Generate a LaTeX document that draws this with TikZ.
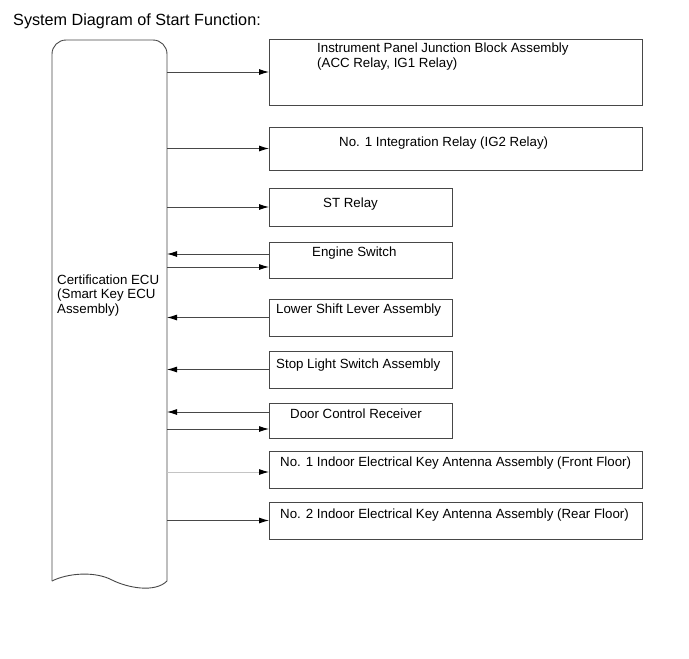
\documentclass[tikz,border=0pt]{standalone}
\usepackage{fontspec}
\setmainfont{Liberation Sans}
\usetikzlibrary{arrows.meta}
\definecolor{linegray}{HTML}{474747}
\definecolor{lightline}{HTML}{C4C4C4}
\tikzset{
  outline/.style={draw=linegray, line width=0.9pt},
  blockbox/.style={outline, rectangle, inner sep=0pt, outer sep=0pt, anchor=north west},
  boxtext/.style={inner sep=0pt, font=\fontsize{13.3}{15}\selectfont, text=black},
  conn/.style={draw=linegray, line width=0.9pt, -{Latex[length=10pt,width=6pt,color=black]}},
}
\begin{document}
\begin{tikzpicture}[x=1pt,y=-1pt]
\useasboundingbox (0,0) rectangle (689,659);
% title
\node[inner sep=0pt, anchor=base west, font=\fontsize{16.2}{18}\selectfont] (title) at (13,25) {System Diagram of Start Function:};
% ECU
\node[inner sep=0pt, outer sep=0pt, minimum width=115pt, minimum height=549pt, anchor=north west] (ecu) at (52,40) {};
\draw[outline, rounded corners=14pt] (52,581) -- (52,40) -- (167,40) -- (167,581);
\draw[outline] (52,581) .. controls (68,573) and (95,571) .. (112,580) .. controls (128,588) and (155,593) .. (167,581);
\node[boxtext, anchor=north west, align=left, font=\fontsize{13.3}{14.7}\selectfont] (ecutext) at (57,274.3) {Certification ECU\\(Smart Key ECU\\Assembly)};
% boxes
\node[blockbox, minimum width=373pt, minimum height=66pt] (b1) at (269,39) {};
\node[blockbox, minimum width=373pt, minimum height=43pt] (b2) at (269,127) {};
\node[blockbox, minimum width=183pt, minimum height=38pt] (b3) at (269,188) {};
\node[blockbox, minimum width=183pt, minimum height=36pt] (b4) at (269,242) {};
\node[blockbox, minimum width=183pt, minimum height=37pt] (b5) at (269,299) {};
\node[blockbox, minimum width=183pt, minimum height=37pt] (b6) at (269,351) {};
\node[blockbox, minimum width=183pt, minimum height=35pt] (b7) at (269,403) {};
\node[blockbox, minimum width=373pt, minimum height=37pt] (b8) at (269,451) {};
\node[blockbox, minimum width=373pt, minimum height=37pt] (b9) at (269,502) {};
% texts
\node[boxtext, anchor=north west, align=left] (t1) at (317,42.2) {Instrument Panel Junction Block Assembly\\(ACC Relay, IG1 Relay)};
\node[boxtext, anchor=base west] (t2) at (339,146) {No. 1 Integration Relay (IG2 Relay)};
\node[boxtext, anchor=base west] (t3) at (323,207) {ST Relay};
\node[boxtext, anchor=base west] (t4) at (312,256) {Engine Switch};
\node[boxtext, anchor=base west] (t5) at (276,313) {Lower Shift Lever Assembly};
\node[boxtext, anchor=base west] (t6) at (276,368) {Stop Light Switch Assembly};
\node[boxtext, anchor=base west] (t7) at (290,418) {Door Control Receiver};
\node[boxtext, anchor=base west] (t8) at (280,466) {No. 1 Indoor Electrical Key Antenna Assembly (Front Floor)};
\node[boxtext, anchor=base west] (t9) at (280,518) {No. 2 Indoor Electrical Key Antenna Assembly (Rear Floor)};
% connectors
\draw[conn] (ecu.east |- b1.west) -- (b1.west);
\draw[conn] (ecu.east |- b2.west) -- (b2.west);
\draw[conn] (ecu.east |- b3.west) -- (b3.west);
\draw[conn] ([yshift=6pt]b4.west) -- ([yshift=6pt]ecu.east |- b4.west);
\draw[conn] ([yshift=-7pt]ecu.east |- b4.west) -- ([yshift=-7pt]b4.west);
\draw[conn] (b5.west) -- (ecu.east |- b5.west);
\draw[conn] (b6.west) -- (ecu.east |- b6.west);
\draw[conn] ([yshift=8.5pt]b7.west) -- ([yshift=8.5pt]ecu.east |- b7.west);
\draw[conn] ([yshift=-8.5pt]ecu.east |- b7.west) -- ([yshift=-8.5pt]b7.west);
\draw[conn, draw=lightline] ([yshift=-2.5pt]ecu.east |- b8.west) -- ([yshift=-2.5pt]b8.west);
\draw[conn] (ecu.east |- b9.west) -- (b9.west);
\end{tikzpicture}
\end{document}
